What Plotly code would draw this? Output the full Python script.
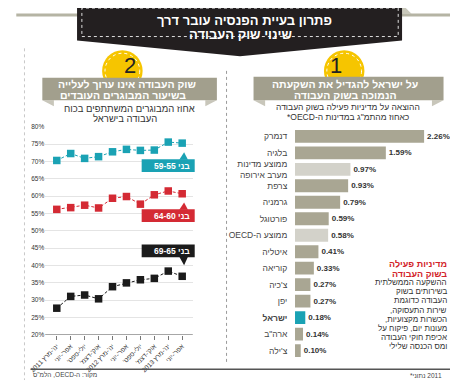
import plotly.graph_objects as go

W, H = 458, 385
OX, OY = 8, 8            # page body margin of the browser
FW, FH = W - OX, H - OY  # figure size that fills the visible window
FONT = "Liberation Sans, DejaVu Sans, Arial, sans-serif"

# ---------------- data ----------------
quarters = ["ינו'-מרץ 2011", "אפר'-יוני", "יולי-ספט'", "אוק'-דצמ'", "ינו'-מרץ 2012",
            "אפר'-יוני", "יולי-ספט'", "אוק'-דצמ'", "ינו'-מרץ 2013", "אפר'-יוני"]
age_55_59 = [70.3, 72.3, 70.9, 71.4, 72.8, 73.5, 73.2, 73.3, 75.6, 75.3]
age_60_64 = [56.2, 56.7, 57.4, 56.6, 59.4, 59.9, 57.7, 60.4, 61.5, 60.7]
age_65_69 = [27.7, 31.1, 31.5, 30.4, 33.9, 35.0, 35.9, 36.3, 38.4, 36.9]
series_labels = ["בני 59-55", "בני 64-60", "בני 69-65"]
series_colors = ["#1aa2b4", "#d42a34", "#1b1b1b"]
pct_ticks = [20, 25, 30, 35, 40, 45, 50, 55, 60, 65, 70, 75, 80]

countries = ["דנמרק", "בלגיה", "ממוצע מדינות<br>מערב אירופה", "צרפת", "גרמניה", "פורטוגל",
             "ממוצע ה-OECD", "איטליה", "קוריאה", "צ'כיה", "יפן", "ישראל", "ארה\"ב", "צ'ילה"]
spending = [2.26, 1.59, 0.97, 0.93, 0.79, 0.59, 0.58, 0.41, 0.33, 0.27, 0.27, 0.18, 0.14, 0.10]
kind = ["c", "c", "avg", "c", "c", "c", "avg", "c", "c", "c", "c", "isr", "c", "c"]
kind_color = {"c": "#a9a693", "avg": "#d3d2ca", "isr": "#1aa2b4"}

title_lines = ["פתרון בעיית הפנסיה עובר דרך", "שינוי שוק העבודה"]
left_head = ["שוק העבודה אינו ערוך לעלייה", "בשיעור המבוגרים העובדים"]
left_sub = ["אחוז המבוגרים המשתתפים בכוח", "העבודה בישראל"]
right_head = ["על ישראל להגדיל את השקעתה", "הנמוכה בשוק העבודה"]
right_sub = ["ההוצאה על מדיניות פעילה בשוק העבודה", "כאחוז מהתמ\"ג במדינות ה-OECD*"]
note_head = ["מדיניות פעילה", "בשוק העבודה"]
note_body = ["ההשקעה הממשלתית", "בשירותים בשוק", "העבודה כדוגמת", "שירות התעסוקה,",
             "הכשרות מקצועיות,", "מעונות יום, פיקוח על", "אכיפת חוקי העבודה", "ומס הכנסה שלילי"]
source_txt = "מקור: ה-OECD, הלמ\"ס"
footnote_txt = "*נתוני\u200e 2011"


def rtl(s):
    return "<br>".join("\u202b" + part + "\u202c" for part in s.split("<br>"))


def px(x):
    return (x - OX) / FW


def py(y):
    return 1 - (y - OY) / FH


def poly(points, color, line=None):
    path = "M " + " L ".join(f"{px(x):.5f},{py(y):.5f}" for x, y in points) + " Z"
    return dict(type="path", xref="paper", yref="paper", path=path, fillcolor=color,
                line=dict(width=0) if line is None else line, layer="above")


def rect(x0, y0, x1, y1, color, line=None):
    return dict(type="rect", xref="paper", yref="paper", x0=px(x0), x1=px(x1),
                y0=py(y1), y1=py(y0), fillcolor=color,
                line=dict(width=0) if line is None else line, layer="above")


def seg(x0, y0, x1, y1, color, width=1, dash="solid"):
    return dict(type="line", xref="paper", yref="paper", x0=px(x0), x1=px(x1),
                y0=py(y0), y1=py(y1), line=dict(color=color, width=width, dash=dash))


def circle(cx, cy, r, color, line=None):
    return dict(type="circle", xref="paper", yref="paper", x0=px(cx - r), x1=px(cx + r),
                y0=py(cy + r), y1=py(cy - r), fillcolor=color,
                line=dict(width=0) if line is None else line, layer="above")


def text(x, y, s, size, color="#333", bold=False, xanchor="center"):
    t = rtl(s)
    if bold:
        t = "<b>" + t + "</b>"
    return dict(x=px(x), y=py(y), xref="paper", yref="paper", text=t, showarrow=False,
                xanchor=xanchor, yanchor="middle", font=dict(size=size, color=color, family=FONT))


fig = go.Figure()

# ---------------- left line chart ----------------
xs = list(range(len(quarters)))
for vals, name, col in zip([age_55_59, age_60_64, age_65_69], series_labels, series_colors):
    fig.add_trace(go.Scatter(x=xs, y=vals, mode="lines+markers", name=name,
                             line=dict(color=col, width=1, dash="3px,2px"),
                             marker=dict(symbol="square", size=7.5, color=col),
                             xaxis="x", yaxis="y", showlegend=False, cliponaxis=False))

# ---------------- right bar chart ----------------
fig.add_trace(go.Bar(x=spending, y=list(range(len(countries))), orientation="h",
                     marker=dict(color=[kind_color[k] for k in kind], line=dict(width=0)),
                     text=[f"<b>{v:.2f}%</b>" for v in spending], textposition="outside",
                     textfont=dict(size=8, color="#333", family=FONT),
                     cliponaxis=False, width=0.78, xaxis="x2", yaxis="y2", showlegend=False))

bar_ticktext = []
for c, k in zip(countries, kind):
    t = rtl(c)
    if k == "isr":
        t = "<b>" + t + "</b>"
    bar_ticktext.append(t)

shapes = []
# title band
shapes.append(rect(0, 9.5, 452, 12.5, "#b5b4a4"))
shapes.append(poly([(400, 0), (410, 10), (400, 10)], "#c9c8bb"))
shapes.append(poly([(63, 0), (400, 0), (400, 37), (232, 53), (63, 37)], "#231f20"))
shapes.append(rect(68, 4, 396, 33, "rgba(0,0,0,0)", line=dict(color="#dddddd", width=1, dash="dot")))
# separators
shapes.append(seg(218, 68, 218, 367, "#9a9a9a", 1, "dot"))
shapes.append(seg(8.5, 45, 8.5, 383, "#c8c8c8", 1, "dot"))
shapes.append(seg(15, 372, 458, 372, "#555555", 1.5))
# circles
for cx in (110, 340):
    shapes.append(circle(cx, 68, 21, "#f6c500"))
    shapes.append(circle(cx, 68, 18, "rgba(0,0,0,0)", line=dict(color="white", width=1, dash="dot")))
# ribbons
for (x0, x1, y0, y1) in [(27, 208, 75, 98), (246, 443, 74, 98)]:
    shapes.append(poly([(x0, y1), (x0 + 12, y1), (x0 + 12, y1 + 6)], "#c8c6ba"))
    shapes.append(poly([(x1, y1), (x1 - 12, y1), (x1 - 12, y1 + 6)], "#c8c6ba"))
    shapes.append(rect(x0, y0, x1, y1, "#a29f8d"))
# baseline of left chart
shapes.append(dict(type="line", xref="paper", yref="y", x0=px(30), x1=px(183), y0=20, y1=20,
                   line=dict(color="#8a8a8a", width=1.2)))
# callouts
shapes.append(rect(130, 158, 185, 171, series_colors[0]))
shapes.append(poly([(169, 158.5), (178, 158.5), (174, 151)], series_colors[0]))
shapes.append(rect(130, 209, 185, 222, series_colors[1]))
shapes.append(poly([(169, 209.5), (178, 209.5), (174, 202)], series_colors[1]))
shapes.append(rect(130, 245, 185, 258, series_colors[2]))
shapes.append(poly([(169, 257.5), (178, 257.5), (174, 266)], series_colors[2]))

ann = []
ann.append(text(237, 17, title_lines[0], 13, "white", True))
ann.append(text(232, 30.5, title_lines[1], 13, "white", True))
ann.append(dict(x=px(110), y=py(63), xref="paper", yref="paper", text="2", showarrow=False,
                yanchor="middle", font=dict(size=22, color="#222", family=FONT)))
ann.append(dict(x=px(340), y=py(63), xref="paper", yref="paper", text="1", showarrow=False,
                yanchor="middle", font=dict(size=22, color="#222", family=FONT)))
ann.append(text(115, 81.5, left_head[0], 10.5, "white", True))
ann.append(text(111, 92.5, left_head[1], 10.5, "white", True))
ann.append(text(341, 81.5, right_head[0], 10.5, "white", True))
ann.append(text(341, 92.5, right_head[1], 10.5, "white", True))
ann.append(text(117, 106, left_sub[0], 9.5, "#333"))
ann.append(text(113, 116.5, left_sub[1], 9.5, "#333"))
ann.append(text(344, 105, right_sub[0], 8.5, "#333"))
ann.append(text(344, 115, right_sub[1], 8.5, "#333"))
ann.append(text(449, 265, note_head[0], 9, "#d2232a", True, "right"))
ann.append(text(449, 274.5, note_head[1], 9, "#d2232a", True, "right"))
for i, line in enumerate(note_body):
    ann.append(text(449, 283.5 + i * 9.4, line, 8, "#333", False, "right"))
ann.append(text(15, 377, source_txt, 6.5, "#444", False, "left"))
ann.append(dict(x=px(444), y=py(378), xref="paper", yref="paper", text=footnote_txt,
                showarrow=False, xanchor="right", yanchor="middle",
                font=dict(size=6.5, color="#444", family=FONT)))
for lbl, yc in zip(series_labels, [164.5, 215.5, 251.5]):
    ann.append(text(161, yc, lbl, 8.5, "white", True))

fig.update_layout(
    width=FW, height=FH, margin=dict(l=0, r=0, t=0, b=0),
    paper_bgcolor="white", plot_bgcolor="rgba(0,0,0,0)",
    font=dict(family=FONT, color="#333"),
    xaxis=dict(domain=[px(30), px(183)], range=[-0.83, 9.76], tickmode="array",
               tickvals=xs, ticktext=[rtl(q) for q in quarters], tickangle=-45,
               tickfont=dict(size=6.5, color="#333"), ticks="outside", ticklen=4,
               tickcolor="#777", showgrid=False, zeroline=False, showline=False,
               anchor="y", fixedrange=True),
    yaxis=dict(domain=[py(337), py(125)], range=[20, 80], tickmode="array",
               tickvals=pct_ticks, ticktext=[f"{v}%" for v in pct_ticks],
               gridcolor="#e4e4e4", gridwidth=1, zeroline=False, showline=False,
               tickfont=dict(size=6.5, color="#333"), anchor="x", fixedrange=True),
    xaxis2=dict(domain=[px(289), px(443)], range=[0, 2.6], visible=False, anchor="y2"),
    yaxis2=dict(domain=[py(361.4), py(126.3)], range=[13.5, -0.5], tickmode="array",
                tickvals=list(range(len(countries))), ticktext=bar_ticktext,
                tickfont=dict(size=8.5, color="#444"), ticks="outside", ticklen=5,
                tickcolor="rgba(0,0,0,0)", showgrid=False, zeroline=False, showline=False,
                anchor="x2"),
    shapes=shapes, annotations=ann,
)

fig.write_html("out.html")
